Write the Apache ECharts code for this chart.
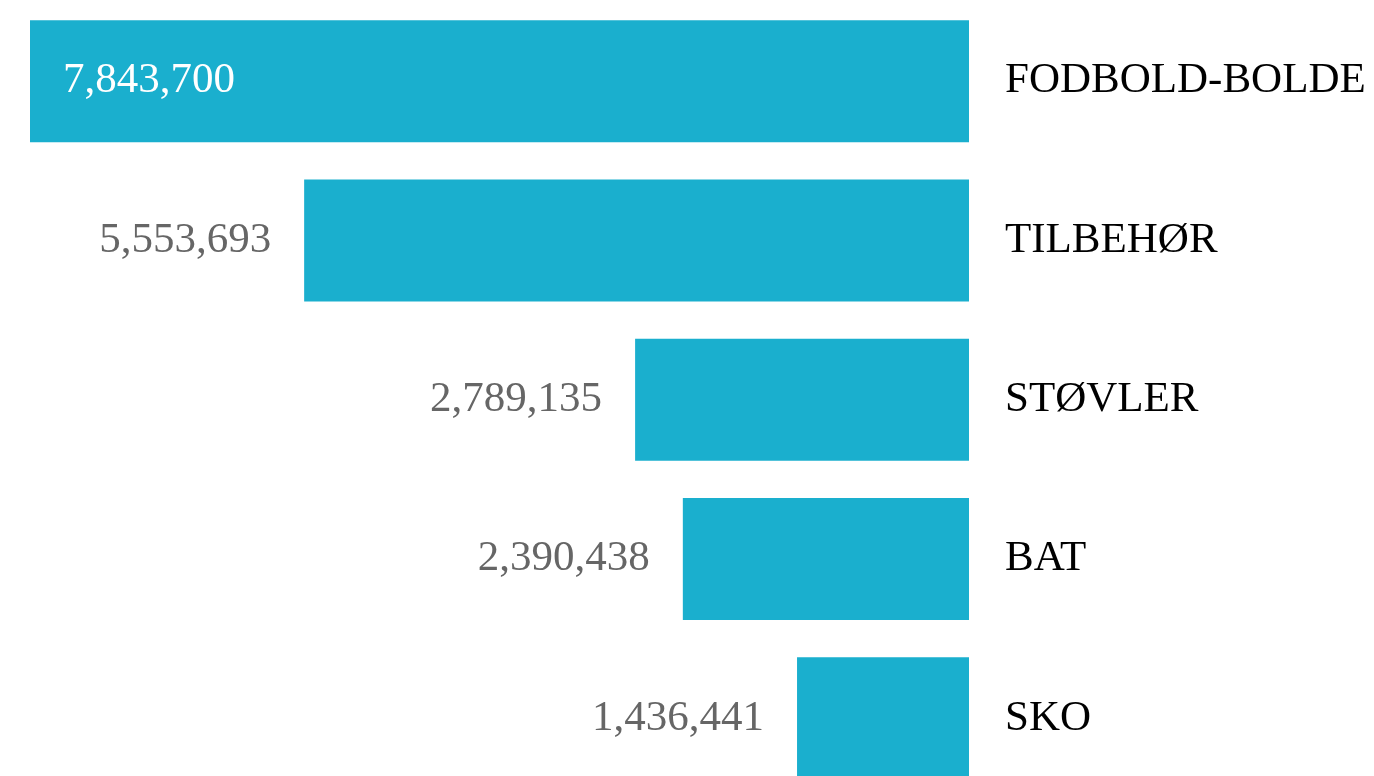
<!DOCTYPE html>
<html>
<head>
<meta charset="utf-8">
<script src="https://cdn.jsdelivr.net/npm/echarts@6/dist/echarts.min.js"></script>
<style>
  html, body { margin: 0; padding: 0; background: #fff; overflow: hidden; }
  #chart { width: 1374px; height: 798px; }
</style>
</head>
<body>
<div id="chart"></div>
<script>
const categories = ["FODBOLD-BOLDE", "TILBEHØR", "STØVLER", "BAT", "SKO"];
const values = [7843700, 5553693, 2789135, 2390438, 1436441];

const fontFamily = "'Liberation Serif', 'DejaVu Serif', serif";

// the last bar runs off the bottom of the picture, so the chart is a bit taller than the window
const chart = echarts.init(document.getElementById("chart"));

const seriesData = values.map((v, i) => ({
  value: v,
  label: i === 0
    ? { position: "insideLeft", color: "#fff" }
    : { position: "left", color: "#666" },
}));

chart.setOption({
  animation: false,
  grid: { left: 30, right: 405, top: 1.5, bottom: 0 },
  xAxis: {
    type: "value",
    inverse: true,
    min: 0,
    max: values[0],
    show: false,
  },
  yAxis: {
    type: "category",
    data: categories,
    inverse: true,
    position: "right",
    axisLine: { show: false },
    axisTick: { show: false },
    splitLine: { show: false },
    axisLabel: {
      margin: 36,
      color: "#000",
      fontSize: 43,
      fontFamily: fontFamily,
      align: "left",
      padding: [10, 0, 0, 0],
    },
  },
  series: [
    {
      type: "bar",
      data: seriesData,
      barWidth: 122,
      itemStyle: { color: "#1aafce" },
      label: {
        show: true,
        distance: 33,
        fontSize: 43,
        fontFamily: fontFamily,
        padding: [10, 0, 0, 0],
        formatter: (p) => p.value.toLocaleString("en-US"),
      },
    },
  ],
});
</script>
</body>
</html>
